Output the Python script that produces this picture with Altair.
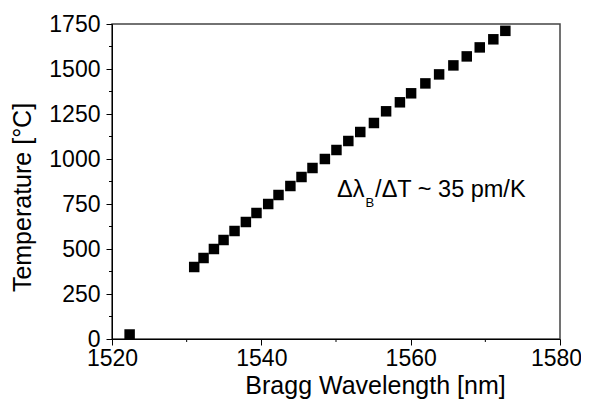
import altair as alt
import pandas as pd

# ---- data ----
wavelength_nm = [1522.36, 1531.01, 1532.26, 1533.65, 1534.94, 1536.41, 1537.93, 1539.35,
                 1540.92, 1542.30, 1543.89, 1545.38, 1546.85, 1548.51, 1550.06, 1551.65,
                 1553.25, 1555.08, 1556.71, 1558.56, 1560.06, 1561.97, 1563.81, 1565.72,
                 1567.51, 1569.25, 1571.07, 1572.68]
temperature_c = [25, 400, 450, 500, 550, 600, 650, 700,
                 750, 800, 850, 900, 950, 1000, 1050, 1100,
                 1150, 1200, 1265, 1315, 1365, 1420, 1470, 1520,
                 1570, 1620, 1665, 1712]

x_major = [1520, 1540, 1560, 1580]
x_minor = [1530, 1550, 1570]
y_major = [0, 250, 500, 750, 1000, 1250, 1500, 1750]
y_minor = [125, 375, 625, 875, 1125, 1375, 1625]

annot_lam = [1550.15]
annot_temp = [790]

FONT = "Liberation Sans"
W, H = 448, 315

df = pd.DataFrame({"wavelength": wavelength_nm, "temperature": temperature_c})
xscale = alt.Scale(domain=[1520, 1580], nice=False, zero=False)
yscale = alt.Scale(domain=[0, 1750], nice=False, zero=False)

xaxis = alt.Axis(values=x_major, format="d", tickSize=6, labelPadding=20,
                 labelBaseline="alphabetic", labelFlush=False, labelOverlap=False,
                 labelOffset={"condition": {"test": "datum.value == 1580", "value": -4},
                              "value": 0},
                 labelFontSize=23, titleFontSize=25, title="Bragg Wavelength [nm]",
                 titleX=263, titleY=54, titleBaseline="alphabetic", titleAlign="center",
                 grid=False)
yaxis = alt.Axis(values=y_major, format="d", tickSize=6, labelPadding=6,
                 labelFontSize=23, titleFontSize=25, title="Temperature [°C]",
                 titleX=-82, titleY=173, titleAngle=270, titleBaseline="alphabetic",
                 titleAlign="center", labelOverlap=False, labelFlush=False, grid=False)

points = alt.Chart(df).mark_square(size=110, color="black", opacity=1).encode(
    x=alt.X("wavelength:Q", scale=xscale, axis=xaxis),
    y=alt.Y("temperature:Q", scale=yscale, axis=yaxis),
)

xmin = alt.Chart(pd.DataFrame({"wavelength": x_minor})).mark_rule(
    color="black", strokeWidth=1).encode(
    x=alt.X("wavelength:Q", scale=xscale),
    y=alt.value(H), y2=alt.value(H + 3))

ymin = alt.Chart(pd.DataFrame({"temperature": y_minor})).mark_rule(
    color="black", strokeWidth=1).encode(
    y=alt.Y("temperature:Q", scale=yscale),
    x=alt.value(-3), x2=alt.value(0))

adf = pd.DataFrame({"wavelength": annot_lam, "temperature": annot_temp})
t1 = alt.Chart(adf).mark_text(text="Δλ", align="left", baseline="alphabetic",
                              fontSize=23.5, font=FONT, color="black").encode(
    x=alt.X("wavelength:Q", scale=xscale), y=alt.Y("temperature:Q", scale=yscale))
t2 = alt.Chart(adf).mark_text(text="B", align="left", baseline="alphabetic",
                              fontSize=13, font=FONT, color="black", dx=28.5, dy=10).encode(
    x=alt.X("wavelength:Q", scale=xscale), y=alt.Y("temperature:Q", scale=yscale))
t3 = alt.Chart(adf).mark_text(text="/ΔT ~ 35 pm/K", align="left", baseline="alphabetic",
                              fontSize=23.5, font=FONT, color="black", dx=38).encode(
    x=alt.X("wavelength:Q", scale=xscale), y=alt.Y("temperature:Q", scale=yscale))

chart = alt.layer(points, xmin, ymin, t1, t2, t3).properties(
    width=W, height=H,
    autosize=alt.AutoSizeParams(type="none"),
    padding={"left": 104, "top": 16, "right": 21, "bottom": 60},
    background="white",
).configure_view(stroke="#444", strokeWidth=1.5).configure_axis(
    domainColor="black", domainWidth=1, tickColor="black", tickWidth=1,
    labelColor="black", titleColor="black", labelFont=FONT, titleFont=FONT,
    titleFontWeight="normal",
)

chart.save("out.html", embed_options={"renderer": "svg", "actions": False})
